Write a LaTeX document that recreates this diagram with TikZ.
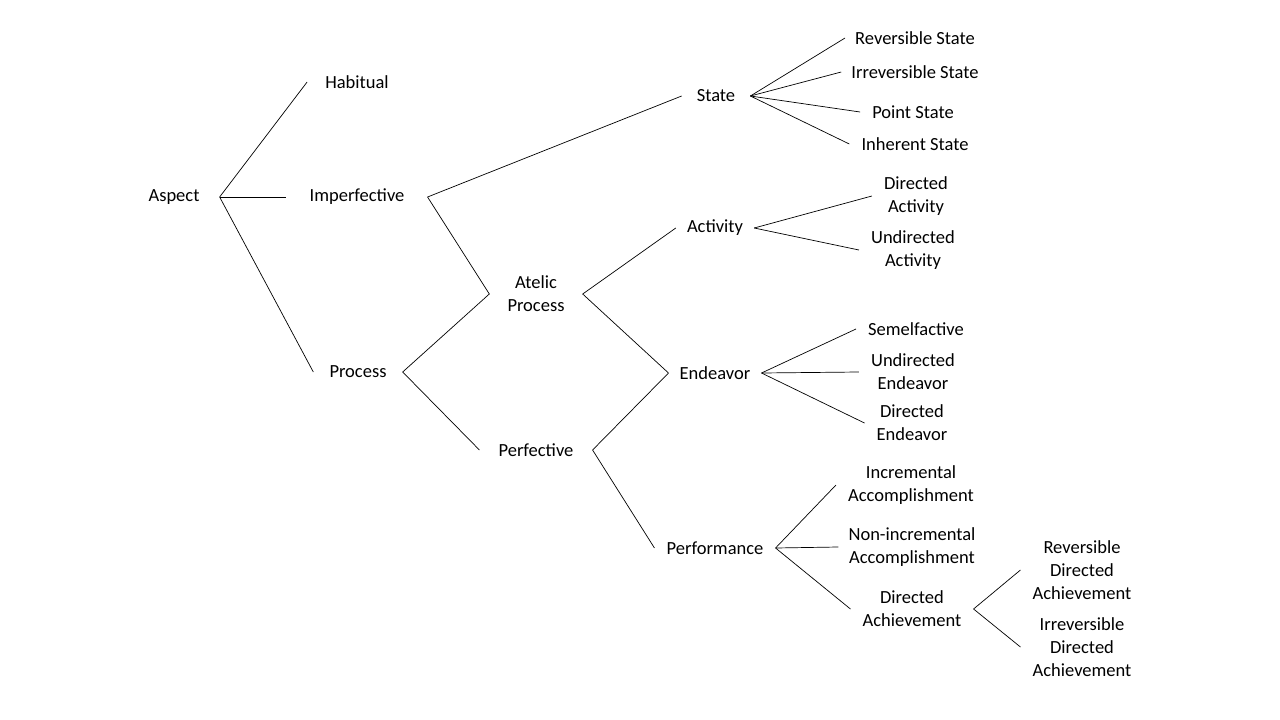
\documentclass[tikz,border=0pt]{standalone}
\usepackage{fontspec}
\setmainfont{Carlito}
\usetikzlibrary{positioning}

\begin{document}
\begin{tikzpicture}[x=1pt,y=-1pt,
  lbl/.style={align=center, inner xsep=12pt, inner ysep=1pt,
    font=\fontsize{18.5}{23}\selectfont},
  branch/.style={line width=0.7pt}]
  \useasboundingbox (0,0) rectangle (1280,720);
  % first levels
  \node[lbl, inner xsep=20pt] (aspect) at (174,197) {Aspect};
  \node[lbl, inner xsep=18pt] (habitual) at (357,82) {Habitual};
  \node[lbl, inner xsep=23pt] (imperf) at (357,197) {Imperfective};
  \node[lbl, inner xsep=16pt] (process) at (358,372) {Process};
  \node[lbl, inner xsep=18pt] (atelic) at (536,294) {Atelic\\Process};
  \node[lbl, inner xsep=19pt] (perf) at (536,450) {Perfective};
  % middle level
  \node[lbl, inner xsep=15pt] (state) at (716,96) {State};
  \node[lbl, inner xsep=11pt] (activity) at (715,228) {Activity};
  \node[lbl, inner xsep=11pt] (endeavor) at (715,373) {Endeavor};
  \node[lbl, inner xsep=12pt] (perform) at (715,548) {Performance};
  % leaves
  \node[lbl, inner xsep=10pt] (revstate) at (915,38) {Reversible State};
  \node[lbl, inner xsep=10pt] (irrstate) at (915,72) {Irreversible State};
  \node[lbl] (pointstate) at (913,112) {Point State};
  \node[lbl] (inhstate) at (915,144) {Inherent State};
  \node[lbl] (diract) at (916,196) {Directed\\Activity};
  \node[lbl] (undiract) at (913,250) {Undirected\\Activity};
  \node[lbl] (semel) at (916,329) {Semelfactive};
  \node[lbl] (undirend) at (913,372) {Undirected\\Endeavor};
  \node[lbl] (dirend) at (912,423) {Directed\\Endeavor};
  \node[lbl] (incacc) at (911,485) {Incremental\\Accomplishment};
  \node[lbl, inner xsep=10pt] (nonacc) at (912,547) {Non-incremental\\Accomplishment};
  \node[lbl] (dirach) at (912,609) {Directed\\Achievement};
  \node[lbl] (revach) at (1082,570) {Reversible\\Directed\\Achievement};
  \node[lbl] (irrach) at (1082,647) {Irreversible\\Directed\\Achievement};
  % branches
  \foreach \c in {habitual,imperf,process}
    \draw[branch] (aspect.east) -- (\c.west);
  \foreach \c in {state,atelic}
    \draw[branch] (imperf.east) -- (\c.west);
  \foreach \c in {atelic,perf}
    \draw[branch] (process.east) -- (\c.west);
  \foreach \c in {activity,endeavor}
    \draw[branch] (atelic.east) -- (\c.west);
  \foreach \c in {endeavor,perform}
    \draw[branch] (perf.east) -- (\c.west);
  \foreach \c in {revstate,irrstate,pointstate,inhstate}
    \draw[branch] (state.east) -- (\c.west);
  \foreach \c in {diract,undiract}
    \draw[branch] (activity.east) -- (\c.west);
  \foreach \c in {semel,undirend,dirend}
    \draw[branch] (endeavor.east) -- (\c.west);
  \foreach \c in {incacc,nonacc,dirach}
    \draw[branch] (perform.east) -- (\c.west);
  \foreach \c in {revach,irrach}
    \draw[branch] (dirach.east) -- (\c.west);
\end{tikzpicture}
\end{document}
